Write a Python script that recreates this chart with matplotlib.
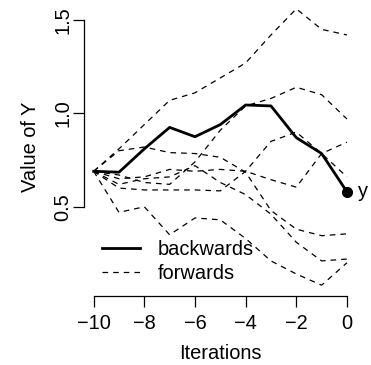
import numpy as np
import matplotlib
matplotlib.use("Agg")
import matplotlib.pyplot as plt

plt.rcParams['font.family'] = ['Liberation Sans', 'DejaVu Sans']

# iterations and the backwards path
iters = [-10, -9, -8, -7, -6, -5, -4, -3, -2, -1, 0]
backwards = [0.69, 0.685, 0.81, 0.925, 0.875, 0.94, 1.045, 1.04, 0.87, 0.785, 0.58]

# forward paths, all starting from the same value
fwd_a = [0.69, 0.81, 0.94, 1.07, 1.11, 1.19, 1.27, 1.42, 1.56, 1.45, 1.42]
fwd_b = [0.69, 0.67, 0.63, 0.62, 0.74, 0.91, 1.04, 1.08, 1.14, 1.10, 0.97]
fwd_c = [0.69, 0.80, 0.82, 0.79, 0.785, 0.765, 0.685, 0.48, 0.38, 0.345, 0.355]
fwd_d = [0.69, 0.47, 0.50, 0.35, 0.44, 0.43, 0.33, 0.21, 0.14, 0.08, 0.20]
fwd_e = [0.69, 0.65, 0.66, 0.70, 0.69, 0.70, 0.69, 0.645, 0.605, 0.785, 0.846]
fwd_f = [0.69, 0.60, 0.59, 0.59, 0.59, 0.585, 0.69, 0.85, 0.90, 0.785, 0.66]
fwd_h = [0.69, 0.62, 0.65, 0.66, 0.72, 0.63, 0.565, 0.46, 0.31, 0.21, 0.22]
forwards = [fwd_a, fwd_b, fwd_c, fwd_d, fwd_e, fwd_f, fwd_h]

xticks = [-10, -8, -6, -4, -2, 0]
yticks = [0.5, 1.0, 1.5]

fs = 14.4

fig = plt.figure(figsize=(3.71, 3.65), dpi=100)
ax = fig.add_axes([0.2251, 0.1890, 0.7374, 0.8165])

for i, f in enumerate(forwards):
    ax.plot(iters, f, color='black', lw=0.9, dashes=(4.5, 4.0),
            label='forwards' if i == 0 else None, zorder=2)
ax.plot(iters, backwards, color='black', lw=2.0, label='backwards', zorder=3)
ax.plot(iters[-1], backwards[-1], 'o', color='black', ms=7, zorder=4)
ax.annotate('y', (iters[-1], backwards[-1]), xytext=(8, 0), textcoords='offset points',
            va='center', ha='left', fontsize=fs)

ax.set_xlim(-10.4, 0.4)
ax.set_ylim(0.022, 1.618)
ax.set_xticks(xticks)
ax.set_xticklabels([('%d' % t).replace('-', '\u2212') for t in xticks])
ax.set_yticks(yticks)
ax.set_yticklabels(['%.1f' % t for t in yticks], rotation=90, va='center')

for s in ['top', 'right']:
    ax.spines[s].set_visible(False)
ax.spines['left'].set_bounds(0.5, 1.5)
ax.spines['bottom'].set_bounds(-10, 0)
for s in ['left', 'bottom']:
    ax.spines[s].set_linewidth(0.9)
ax.tick_params(direction='out', length=8, width=0.9, labelsize=fs)
ax.tick_params(axis='x', pad=5)
ax.tick_params(axis='y', pad=0)

ax.set_xlabel('Iterations', fontsize=fs, labelpad=8)
ax.set_ylabel('Value of Y', fontsize=fs, labelpad=10)

h, l = ax.get_legend_handles_labels()
ax.legend(h[::-1], l[::-1], loc='lower left', bbox_to_anchor=(0.0, -0.016), frameon=False,
          fontsize=fs, handlelength=1.9, handletextpad=0.9, labelspacing=0.25)

fig.savefig('out.png', dpi=100)
